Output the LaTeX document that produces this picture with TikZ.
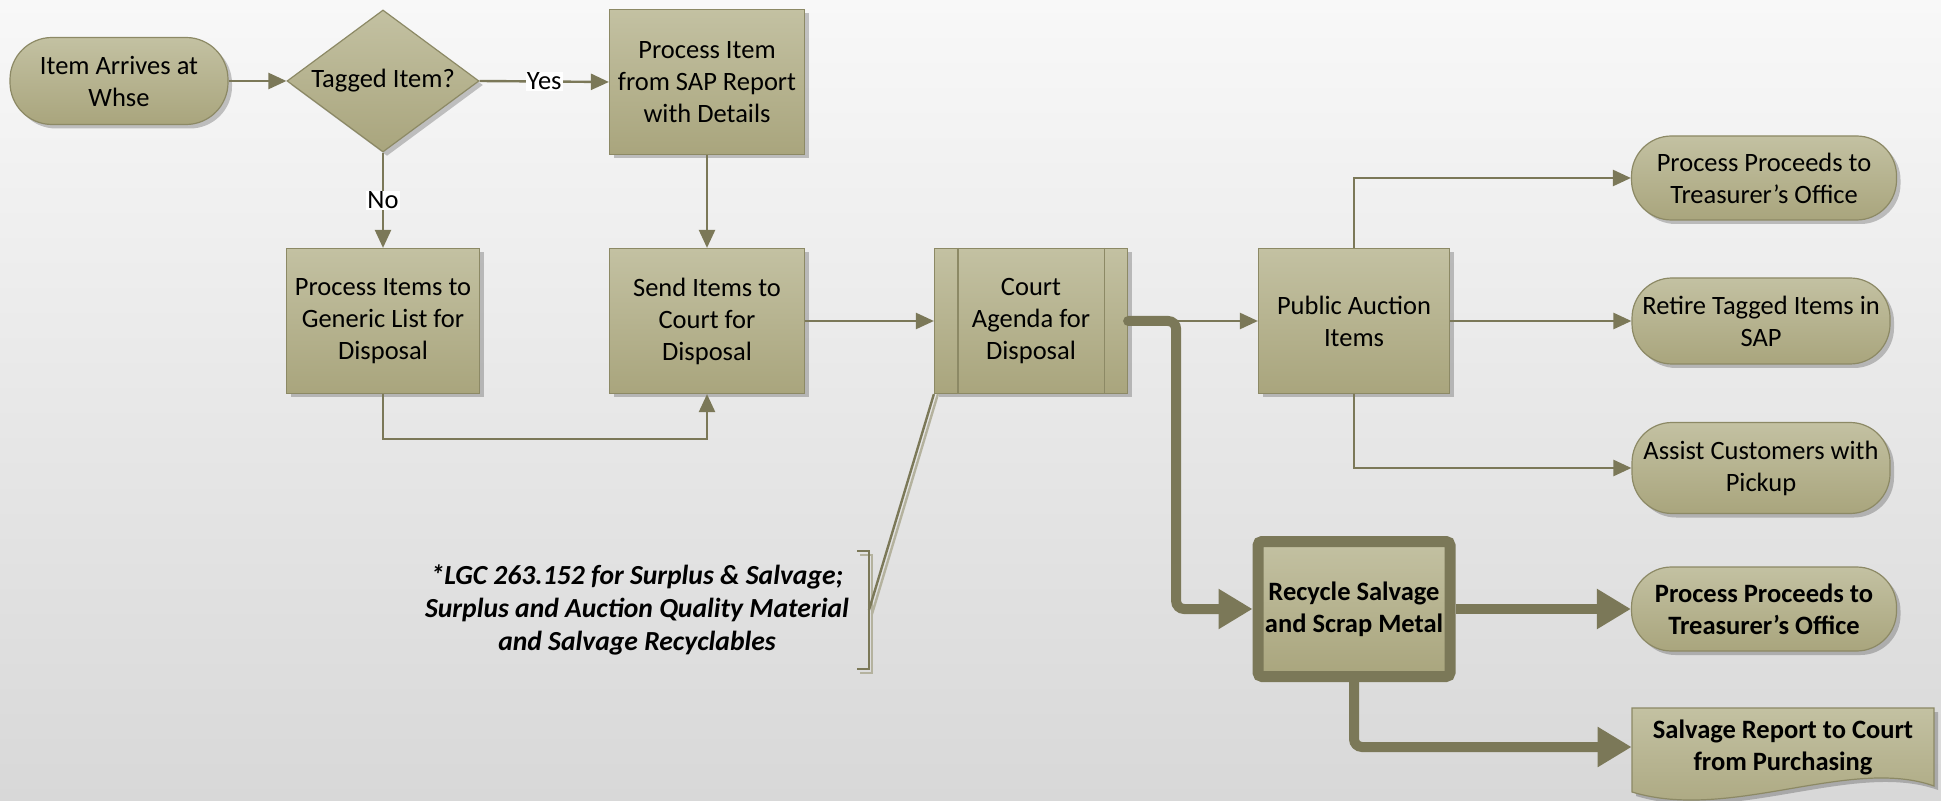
\documentclass[tikz,border=0pt]{standalone}
\usepackage{fontspec}
\setmainfont{Carlito}
\usepackage{tikz}
\usetikzlibrary{calc}
\usetikzlibrary{shapes,arrows.meta,shadows}

\definecolor{olivetop}{RGB}{195,193,162}
\definecolor{olivebot}{RGB}{169,165,125}
\definecolor{oliveedge}{RGB}{140,137,101}
\definecolor{oliveline}{RGB}{123,120,88}
\definecolor{oliveghost}{RGB}{180,178,158}
\definecolor{bgtop}{RGB}{248,248,248}
\definecolor{bgbot}{RGB}{216,216,216}

\newcommand{\flowfont}{\fontsize{13.25pt}{16pt}\selectfont}
\newcommand{\notefont}{\fontsize{13.8pt}{16.3pt}\selectfont}

\tikzset{
  flowbox/.style={rectangle,draw=oliveedge,line width=0.6pt,
    top color=olivetop,bottom color=olivebot,
    drop shadow={shadow xshift=2pt,shadow yshift=-2pt,fill=black,opacity=0.22},
    font=\flowfont,align=center,inner sep=1pt,
    minimum width=97.5pt,minimum height=72.5pt},
  termbox/.style={flowbox,rounded corners=20pt,minimum width=132.5pt,minimum height=42pt},
  decbox/.style={flowbox,diamond,aspect=1.35,minimum width=96pt,minimum height=71pt},
  heavybox/.style={flowbox,draw=oliveline,line width=5.5pt,rounded corners=2pt,
    minimum width=96pt,minimum height=67.5pt,font=\flowfont\bfseries},
  doctext/.style={rectangle,inner sep=0pt,minimum width=151pt,minimum height=41pt,
    font=\flowfont\bfseries,align=center},
  notetext/.style={font=\notefont\bfseries\itshape,align=center,inner sep=0pt},
  flowlabel/.style={fill=white,inner sep=0.5pt,font=\flowfont},
  flowline/.style={draw=oliveline,line width=1.2pt,-{Triangle[length=9pt,width=8pt]}},
  heavyline/.style={draw=oliveline,line width=5pt,rounded corners=4pt,
    -{Triangle[length=17pt,width=19pt]}},
  noteline/.style={draw=oliveline,line width=1.2pt},
  noteghost/.style={draw=oliveghost,line width=1.2pt}
}

\begin{document}
\begin{tikzpicture}[x=0.5pt,y=-0.5pt]
    % page and background
    \shade[top color=bgtop,bottom color=bgbot] (0,0) rectangle (1941,801);
    \useasboundingbox (0,0) rectangle (1941,801);

    % first row
    \node[termbox,minimum width=109pt,minimum height=43.5pt,rounded corners=21pt] (arrive) at (119,81) {Item Arrives at\\Whse};
    \node[decbox] (tagged) at (383,81) {Tagged Item?};
    \node[flowbox] (sapitem) at (707,82) {Process Item\\from SAP Report\\with Details};

    % second row
    \node[flowbox,minimum width=96.5pt] (generic) at (383,321) {Process Items to\\Generic List for\\Disposal};
    \node[flowbox] (send) at (707,321) {Send Items to\\Court for\\Disposal};
    \node[flowbox,minimum width=96.5pt] (court) at (1031,321) {Court\\Agenda for\\Disposal};
    \draw[draw=oliveedge,line width=0.6pt] ($(court.north west)+(24,0)$) -- ($(court.south west)+(24,0)$);
    \draw[draw=oliveedge,line width=0.6pt] ($(court.north east)+(-24,0)$) -- ($(court.south east)+(-24,0)$);
    \node[flowbox,minimum width=95.5pt] (auction) at (1354,321) {Public Auction\\Items};

    % outcomes
    \node[termbox] (proceeds) at (1764,178) {Process Proceeds to\\Treasurer’s Office};
    \node[termbox,minimum width=129pt,minimum height=43pt] (retire) at (1761,321) {Retire Tagged Items in\\SAP};
    \node[termbox,minimum width=129pt,minimum height=45.5pt] (assist) at (1761,468) {Assist Customers with\\Pickup};
    \node[heavybox] (recycle) at (1354,609) {Recycle Salvage\\and Scrap Metal};
    \node[termbox,font=\flowfont\bfseries] (proceedsbold) at (1764,609) {Process Proceeds to\\Treasurer’s Office};
    \path[draw=oliveedge,line width=0.6pt,top color=olivetop,bottom color=olivebot,
      drop shadow={shadow xshift=2pt,shadow yshift=-2pt,fill=black,opacity=0.22}]
      (1632,708) -- (1934,708) -- (1934,786) .. controls (1850,756) and (1730,822) .. (1632,792) -- cycle;
    \node[doctext] (report) at (1783,747) {Salvage Report to Court\\from Purchasing};

    % note
    \node[notetext] (lgcnote) at (637,610) {*LGC 263.152 for Surplus \& Salvage;\\Surplus and Auction Quality Material\\and Salvage Recyclables};
    \coordinate (notetip) at (869,610);
    \draw[noteghost] (860,555) -| (872,673) -- (860,673);
    \draw[noteghost] (872,614) -- ($(court.south west)+(4,0)$);
    \draw[noteline] (857,551) -| (869,669) -- (857,669);
    \draw[noteline] (notetip) -- (court.south west);

    % connectors
    \draw[flowline] (arrive.east) -- (tagged.west);
    \draw[flowline] (tagged.east) -- node[flowlabel]{Yes} (sapitem.west);
    \draw[flowline] (tagged.south) -- node[flowlabel]{No} (generic.north);
    \draw[flowline] (sapitem.south) -- (send.north);
    \draw[flowline] (generic.south) -- ++(0,45) -| (send.south);
    \draw[flowline] (send.east) -- (court.west);
    \draw[flowline] (court.east) -- (auction.west);
    \draw[flowline] (auction.north) |- (proceeds.west);
    \draw[flowline] (auction.east) -- (retire.west);
    \draw[flowline] (auction.south) |- (assist.west);
    \draw[heavyline,line cap=round] (court.east) -- ($(court.east)+(48,0)$) |- (recycle.west);
    \draw[heavyline] (recycle.east) -- (proceedsbold.west);
    \draw[heavyline] (recycle.south) |- (report.west);
\end{tikzpicture}
\end{document}
